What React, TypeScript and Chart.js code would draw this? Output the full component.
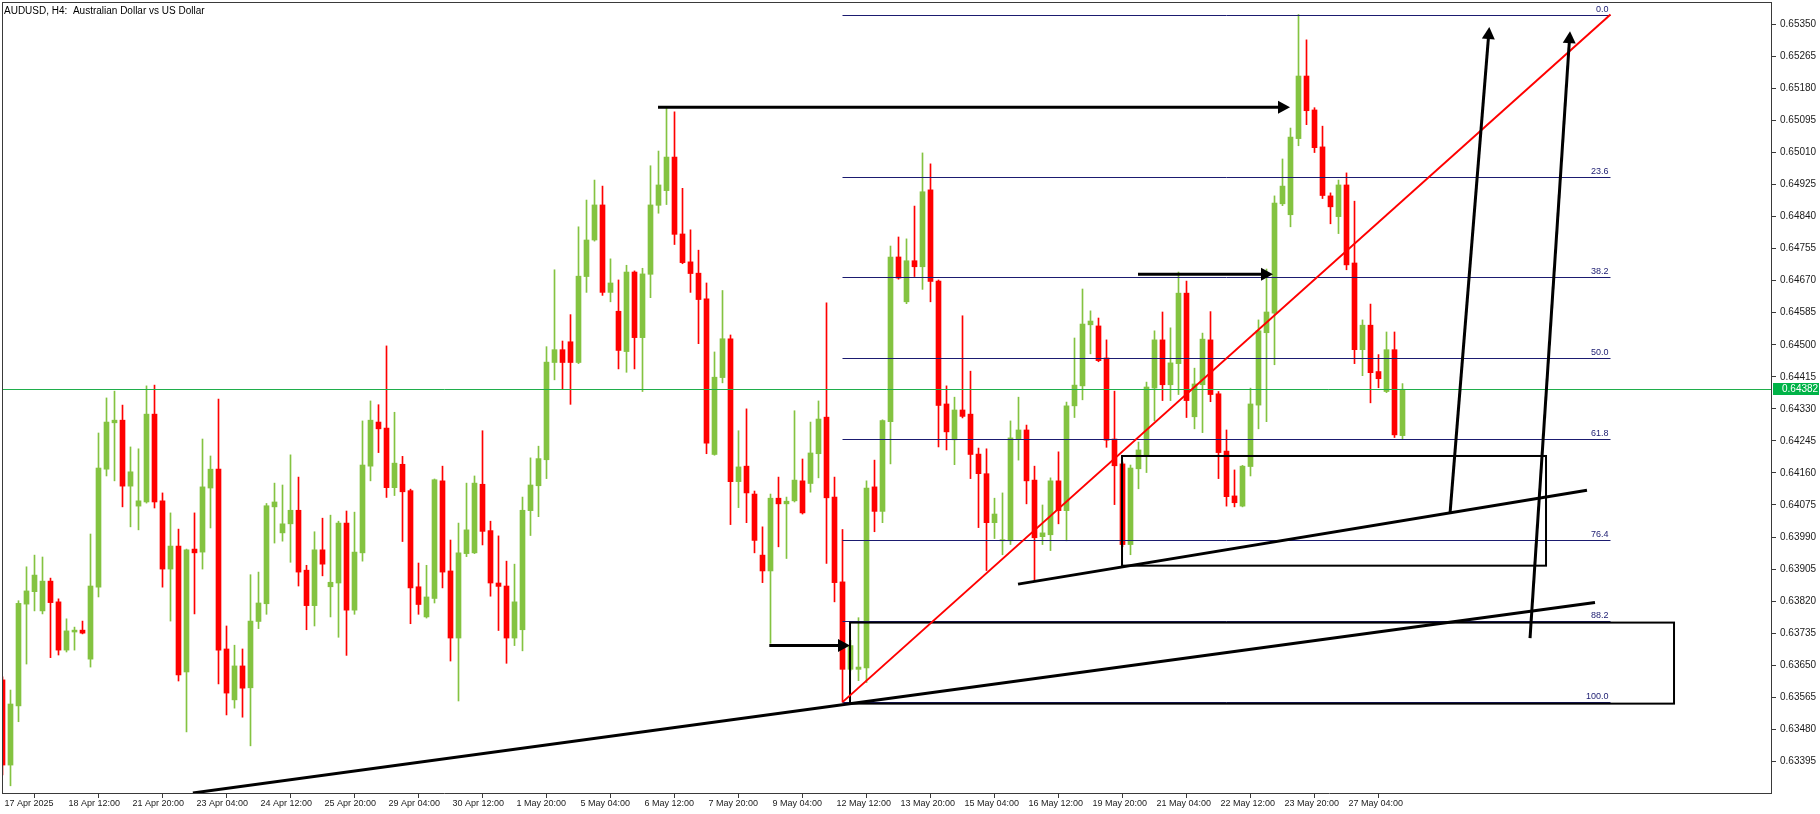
import React, { useEffect, useRef } from "react";
import { Chart, registerables } from "chart.js";

Chart.register(...registerables);

// ---- H4 candles (bar index 0 = 17 Apr 2025 04:00) ----
const barOpen = [
  0.63611, 0.63385, 0.63542, 0.63812, 0.63845, 0.63794, 0.63873, 0.63818, 0.63690, 0.63738,
  0.63743, 0.63666, 0.63857, 0.64170, 0.64293, 0.64300, 0.64125, 0.64072, 0.64083, 0.64316,
  0.64086, 0.63905, 0.63966, 0.63632, 0.63958, 0.63950, 0.64120, 0.64170, 0.63693, 0.63558,
  0.63648, 0.63590, 0.63766, 0.63813, 0.64070, 0.64001, 0.64025, 0.64061, 0.63902, 0.63808,
  0.63956, 0.63858, 0.63868, 0.64027, 0.63796, 0.63948, 0.64178, 0.64295, 0.64279, 0.64121,
  0.64183, 0.64113, 0.63858, 0.63778, 0.63827, 0.64139, 0.63900, 0.63722, 0.63946, 0.63948,
  0.64130, 0.64007, 0.63868, 0.63860, 0.63722, 0.63744, 0.64060, 0.64126, 0.64195, 0.64453,
  0.64487, 0.64508, 0.64453, 0.64681, 0.64778, 0.64871, 0.64639, 0.64589, 0.64482, 0.64693,
  0.64519, 0.64687, 0.64870, 0.64909, 0.64998, 0.64794, 0.64720, 0.64690, 0.64622, 0.64209,
  0.64413, 0.64516, 0.64137, 0.64178, 0.64104, 0.63942, 0.63900, 0.64093, 0.64078, 0.64086,
  0.64139, 0.64132, 0.64211, 0.64308, 0.64096, 0.63871, 0.63639, 0.63639, 0.63643, 0.64123,
  0.64058, 0.64296, 0.64733, 0.64614, 0.64723, 0.64707, 0.64911, 0.64669, 0.64343, 0.64248,
  0.64327, 0.64316, 0.64210, 0.64158, 0.64028, 0.63980, 0.63980, 0.64250, 0.64274, 0.64141,
  0.63991, 0.63996, 0.64139, 0.64060, 0.64338, 0.64391, 0.64553, 0.64550, 0.64465, 0.64250,
  0.64184, 0.63970, 0.64171, 0.64207, 0.64385, 0.64513, 0.64394, 0.64450, 0.64637, 0.64309,
  0.64394, 0.64513, 0.64370, 0.64218, 0.64099, 0.64072, 0.64177, 0.64340, 0.64532, 0.64584,
  0.64874, 0.64845, 0.65047, 0.65213, 0.65123, 0.65025, 0.64895, 0.64840, 0.64924, 0.64717,
  0.64487, 0.64552, 0.64429, 0.64376, 0.64487, 0.64259,
];
const barHigh = [
  0.63619, 0.63584, 0.63821, 0.63911, 0.63942, 0.63937, 0.63881, 0.63826, 0.63773, 0.63751,
  0.63767, 0.63998, 0.64266, 0.64359, 0.64377, 0.64340, 0.64229, 0.64224, 0.64391, 0.64393,
  0.64107, 0.64054, 0.64011, 0.63958, 0.64054, 0.64250, 0.64205, 0.64356, 0.63754, 0.63703,
  0.63693, 0.63890, 0.63897, 0.64079, 0.64133, 0.64128, 0.64208, 0.64149, 0.63915, 0.64004,
  0.64040, 0.64048, 0.64032, 0.64059, 0.64056, 0.64298, 0.64351, 0.64341, 0.64497, 0.64321,
  0.64204, 0.64117, 0.63921, 0.63915, 0.64144, 0.64178, 0.63982, 0.64027, 0.64133, 0.64152,
  0.64272, 0.64032, 0.63993, 0.63926, 0.63918, 0.64096, 0.64200, 0.64231, 0.64495, 0.64699,
  0.64510, 0.64580, 0.64813, 0.64884, 0.64937, 0.64921, 0.64728, 0.64672, 0.64711, 0.64696,
  0.64703, 0.64975, 0.65014, 0.65128, 0.65118, 0.64915, 0.64805, 0.64751, 0.64664, 0.64481,
  0.64644, 0.64526, 0.64272, 0.64330, 0.64112, 0.64017, 0.64104, 0.64149, 0.64096, 0.64325,
  0.64197, 0.64295, 0.64351, 0.64611, 0.64149, 0.64010, 0.63716, 0.63776, 0.64139, 0.64194,
  0.64301, 0.64762, 0.64786, 0.64781, 0.64868, 0.65009, 0.64980, 0.64672, 0.64391, 0.64361,
  0.64577, 0.64430, 0.64226, 0.64224, 0.64093, 0.64107, 0.64298, 0.64361, 0.64287, 0.64178,
  0.64075, 0.64147, 0.64216, 0.64348, 0.64518, 0.64648, 0.64590, 0.64571, 0.64513, 0.64377,
  0.64189, 0.64181, 0.64242, 0.64401, 0.64537, 0.64587, 0.64545, 0.64693, 0.64669, 0.64438,
  0.64531, 0.64588, 0.64376, 0.64274, 0.64168, 0.64180, 0.64385, 0.64566, 0.64701, 0.64895,
  0.64993, 0.65075, 0.65376, 0.65309, 0.65129, 0.65080, 0.64903, 0.64937, 0.64956, 0.64881,
  0.64566, 0.64608, 0.64474, 0.64534, 0.64534, 0.64397,
];
const barLow = [
  0.63359, 0.63330, 0.63500, 0.63653, 0.63794, 0.63786, 0.63670, 0.63677, 0.63685, 0.63690,
  0.63733, 0.63645, 0.63831, 0.64152, 0.64139, 0.64070, 0.64017, 0.64009, 0.64080, 0.64067,
  0.63857, 0.63767, 0.63608, 0.63473, 0.63786, 0.63905, 0.64014, 0.63600, 0.63518, 0.63536,
  0.63512, 0.63436, 0.63747, 0.63785, 0.63974, 0.63979, 0.63923, 0.63860, 0.63744, 0.63754,
  0.63887, 0.63778, 0.63724, 0.63676, 0.63785, 0.63926, 0.64139, 0.64214, 0.64095, 0.64100,
  0.63978, 0.63760, 0.63785, 0.63775, 0.63815, 0.63855, 0.63661, 0.63555, 0.63938, 0.63946,
  0.63969, 0.63833, 0.63742, 0.63655, 0.63702, 0.63688, 0.63994, 0.64044, 0.64145, 0.64407,
  0.64382, 0.64342, 0.64450, 0.64639, 0.64775, 0.64631, 0.64614, 0.64436, 0.64427, 0.64436,
  0.64376, 0.64625, 0.64849, 0.64872, 0.64766, 0.64715, 0.64639, 0.64503, 0.64211, 0.64207,
  0.64399, 0.64023, 0.64068, 0.64028, 0.63948, 0.63869, 0.63708, 0.63964, 0.63933, 0.64083,
  0.64051, 0.64109, 0.64147, 0.63920, 0.63818, 0.63552, 0.63635, 0.63609, 0.63604, 0.64004,
  0.64028, 0.64184, 0.64674, 0.64609, 0.64681, 0.64647, 0.64614, 0.64229, 0.64221, 0.64182,
  0.64306, 0.64145, 0.64015, 0.63901, 0.63986, 0.63943, 0.63970, 0.64194, 0.64078, 0.63874,
  0.63970, 0.63954, 0.64025, 0.63980, 0.64307, 0.64354, 0.64476, 0.64455, 0.64228, 0.64076,
  0.63964, 0.63943, 0.64118, 0.64161, 0.64298, 0.64352, 0.64352, 0.64368, 0.64307, 0.64277,
  0.64267, 0.64349, 0.64145, 0.64072, 0.64070, 0.64070, 0.64152, 0.64277, 0.64296, 0.64447,
  0.64869, 0.64813, 0.65028, 0.65084, 0.65010, 0.64888, 0.64821, 0.64795, 0.64699, 0.64450,
  0.64418, 0.64346, 0.64386, 0.64373, 0.64254, 0.64251,
];
const barClose = [
  0.63385, 0.63547, 0.63814, 0.63847, 0.63889, 0.63873, 0.63816, 0.63690, 0.63741, 0.63743,
  0.63735, 0.63860, 0.64173, 0.64295, 0.64300, 0.64125, 0.64163, 0.64086, 0.64316, 0.64083,
  0.63905, 0.63966, 0.63624, 0.63956, 0.63948, 0.64123, 0.64170, 0.63690, 0.63576, 0.63648,
  0.63589, 0.63767, 0.63815, 0.64073, 0.64083, 0.64025, 0.64061, 0.63897, 0.63808, 0.63956,
  0.63918, 0.63870, 0.64027, 0.63796, 0.63950, 0.64181, 0.64300, 0.64277, 0.64121, 0.64186,
  0.64110, 0.63855, 0.63811, 0.63831, 0.64142, 0.63897, 0.63722, 0.63948, 0.64009, 0.64133,
  0.64005, 0.63868, 0.63859, 0.63722, 0.63818, 0.64061, 0.64128, 0.64198, 0.64454, 0.64487,
  0.64453, 0.64453, 0.64682, 0.64778, 0.64871, 0.64639, 0.64664, 0.64485, 0.64693, 0.64519,
  0.64688, 0.64871, 0.64924, 0.64998, 0.64793, 0.64718, 0.64689, 0.64620, 0.64239, 0.64414,
  0.64516, 0.64137, 0.64176, 0.64107, 0.63981, 0.63900, 0.64093, 0.64078, 0.64085, 0.64141,
  0.64054, 0.64213, 0.64303, 0.64094, 0.63869, 0.63639, 0.63702, 0.63645, 0.64120, 0.64058,
  0.64299, 0.64733, 0.64677, 0.64723, 0.64707, 0.64906, 0.64668, 0.64339, 0.64269, 0.64327,
  0.64310, 0.64209, 0.64158, 0.64028, 0.64051, 0.63983, 0.64253, 0.64274, 0.64139, 0.63988,
  0.64001, 0.64139, 0.64060, 0.64338, 0.64393, 0.64555, 0.64563, 0.64458, 0.64247, 0.64179,
  0.63970, 0.64173, 0.64221, 0.64388, 0.64513, 0.64394, 0.64452, 0.64637, 0.64352, 0.64396,
  0.64515, 0.64368, 0.64214, 0.64097, 0.64081, 0.64178, 0.64343, 0.64537, 0.64587, 0.64876,
  0.64921, 0.65051, 0.65213, 0.65121, 0.65023, 0.64896, 0.64866, 0.64924, 0.64712, 0.64487,
  0.64552, 0.64426, 0.64410, 0.64487, 0.64261, 0.64382,
];

// ---- axis labels ----
const timeLabels = [
  "17 Apr 2025", "18 Apr 12:00", "21 Apr 20:00", "23 Apr 04:00", "24 Apr 12:00", "25 Apr 20:00",
  "29 Apr 04:00", "30 Apr 12:00", "1 May 20:00", "5 May 04:00", "6 May 12:00", "7 May 20:00",
  "9 May 04:00", "12 May 12:00", "13 May 20:00", "15 May 04:00", "16 May 12:00", "19 May 20:00",
  "21 May 04:00", "22 May 12:00", "23 May 20:00", "27 May 04:00",
];
const timeLabelBars = [0, 8, 16, 24, 32, 40, 48, 56, 64, 72, 80, 88, 96, 104, 112, 120, 128, 136, 144, 152, 160, 168];
const priceTicks = [
  0.65350, 0.65265, 0.65180, 0.65095, 0.65010, 0.64925, 0.64840, 0.64755, 0.64670, 0.64585,
  0.64500, 0.64415, 0.64330, 0.64245, 0.64160, 0.64075, 0.63990, 0.63905, 0.63820, 0.63735,
  0.63650, 0.63565, 0.63480, 0.63395,
];

const symbolTitle = "AUDUSD, H4:  Australian Dollar vs US Dollar";
const bidPrice = 0.64382;
const viewPrice = [0.633109, 0.654094];
const viewBars = [-0.0625, 221.0625];

// ---- drawn objects (bar index, price) ----
const fibLevels = [0, 23.6, 38.2, 50, 61.8, 76.4, 88.2, 100];
const fibHigh = 0.65376;
const fibLow = 0.63552;
const fibBars = [105, 201];
const redTrend = [[105, 0.63552], [201, 0.65376]];
const blackTrends = [
  [[23.8, 0.63311], [199.06, 0.63816]],
  [[126.94, 0.63865], [198.06, 0.64114]],
];
const arrows = [
  [[81.94, 0.6513], [160.94, 0.6513]],
  [[141.94, 0.64687], [158.81, 0.64687]],
  [[95.85, 0.63702], [105.94, 0.63702]],
  [[180.94, 0.64053], [185.85, 0.65343]],
  [[190.94, 0.63722], [195.94, 0.65332]],
];
const boxes = [
  [[139.94, 0.64205], [192.94, 0.63914]],
  [[105.94, 0.63763], [208.94, 0.63548]],
];

const BULL = "#84c341";
const BEAR = "#ff0000";
const AXIS = "#3a3a3a";
const FIB = "#1b1b70";
const FONT = "'Liberation Sans', Arial, sans-serif";

const overlayPlugin = {
  id: "overlay",
  afterDatasetsDraw(chart: any) {
    const { ctx, chartArea: a, scales } = chart;
    const xs = scales.x;
    const ys = scales.y;
    const px = (v: number) => xs.getPixelForValue(v);
    const py = (v: number) => ys.getPixelForValue(v);

    ctx.save();
    ctx.beginPath();
    ctx.rect(a.left, a.top, a.right - a.left, a.bottom - a.top);
    ctx.clip();

    // fibonacci levels
    const fx0 = px(fibBars[0]);
    const fx1 = px(fibBars[1]);
    ctx.font = `9px ${FONT}`;
    ctx.textAlign = "right";
    ctx.textBaseline = "alphabetic";
    fibLevels.forEach((lv) => {
      const price = fibHigh - (lv / 100) * (fibHigh - fibLow);
      const y = Math.round(py(price)) + 0.5;
      ctx.strokeStyle = FIB;
      ctx.lineWidth = 1;
      ctx.beginPath();
      ctx.moveTo(fx0, y);
      ctx.lineTo(fx1, y);
      ctx.stroke();
      ctx.fillStyle = FIB;
      ctx.fillText(lv.toFixed(1), fx1 - 2, y - 3.5);
    });

    // bid line
    const by = Math.round(py(bidPrice)) + 0.5;
    ctx.strokeStyle = "#1fae4b";
    ctx.lineWidth = 1;
    ctx.beginPath();
    ctx.moveTo(a.left, by);
    ctx.lineTo(a.right, by);
    ctx.stroke();

    // rectangles
    ctx.strokeStyle = "#000";
    ctx.lineWidth = 2;
    boxes.forEach(([p0, p1]) => {
      const x0 = px(p0[0]);
      const y0 = py(p0[1]);
      const x1 = px(p1[0]);
      const y1 = py(p1[1]);
      ctx.strokeRect(x0, y0, x1 - x0, y1 - y0);
    });

    // black trend lines
    ctx.lineWidth = 3;
    ctx.lineCap = "butt";
    blackTrends.forEach(([p0, p1]) => {
      ctx.beginPath();
      ctx.moveTo(px(p0[0]), py(p0[1]));
      ctx.lineTo(px(p1[0]), py(p1[1]));
      ctx.stroke();
    });

    // red trend line
    ctx.strokeStyle = BEAR;
    ctx.lineWidth = 2;
    ctx.beginPath();
    ctx.moveTo(px(redTrend[0][0]), py(redTrend[0][1]));
    ctx.lineTo(px(redTrend[1][0]), py(redTrend[1][1]));
    ctx.stroke();

    // arrows
    ctx.strokeStyle = "#000";
    ctx.fillStyle = "#000";
    arrows.forEach(([p0, p1]) => {
      const x0 = px(p0[0]);
      const y0 = py(p0[1]);
      const x1 = px(p1[0]);
      const y1 = py(p1[1]);
      const len = Math.hypot(x1 - x0, y1 - y0);
      const dx = (x1 - x0) / len;
      const dy = (y1 - y0) / len;
      const head = 12;
      const half = 6.5;
      ctx.lineWidth = 3;
      ctx.beginPath();
      ctx.moveTo(x0, y0);
      ctx.lineTo(x1 - dx * head * 0.6, y1 - dy * head * 0.6);
      ctx.stroke();
      const bx = x1 - dx * head;
      const by2 = y1 - dy * head;
      ctx.beginPath();
      ctx.moveTo(x1, y1);
      ctx.lineTo(bx - dy * half, by2 + dx * half);
      ctx.lineTo(bx + dy * half, by2 - dx * half);
      ctx.closePath();
      ctx.fill();
    });
    ctx.restore();

    // frame (left & top)
    ctx.save();
    ctx.fillStyle = AXIS;
    ctx.fillRect(Math.floor(a.left), Math.floor(a.top), 1, a.bottom - a.top);
    ctx.fillRect(Math.floor(a.left), Math.floor(a.top), a.right - a.left, 1);

    // bid price box on the axis
    const boxY = Math.round(py(bidPrice));
    ctx.fillStyle = "#00b347";
    ctx.fillRect(ys.left + 2, boxY - 6, 46, 12);
    ctx.fillStyle = "#ffffff";
    ctx.font = `10px ${FONT}`;
    ctx.textAlign = "left";
    ctx.textBaseline = "middle";
    ctx.fillText(bidPrice.toFixed(5), ys.left + 11, boxY + 0.5);

    // title
    ctx.fillStyle = "#000";
    ctx.font = `10px ${FONT}`;
    ctx.textBaseline = "alphabetic";
    ctx.fillText(symbolTitle, a.left + 2, 14);
    ctx.restore();
  },
};

export default function App() {
  const canvasRef = useRef<HTMLCanvasElement | null>(null);

  useEffect(() => {
    const canvas = canvasRef.current;
    if (!canvas) return;
    const idx = barOpen.map((_, i) => i);
    const colors = idx.map((i) => (barClose[i] >= barOpen[i] ? BULL : BEAR));

    const chart = new Chart(canvas, {
      type: "bar",
      data: {
        datasets: [
          {
            label: "wick",
            data: idx.map((i) => ({ x: i, y: [barLow[i], barHigh[i]] })) as any,
            backgroundColor: colors,
            borderWidth: 0,
            barThickness: 1,
            grouped: false,
            minBarLength: 1,
          } as any,
          {
            label: "body",
            data: idx.map((i) => ({ x: i, y: [barOpen[i], barClose[i]] })) as any,
            backgroundColor: colors,
            borderWidth: 0,
            barThickness: 5,
            grouped: false,
            minBarLength: 1,
          } as any,
        ],
      },
      options: {
        animation: false,
        responsive: false,
        devicePixelRatio: 1,
        layout: { padding: { left: 2, top: 2, right: 0, bottom: 0 } },
        plugins: {
          legend: { display: false },
          tooltip: { enabled: false },
          title: { display: false },
        },
        scales: {
          x: {
            type: "linear",
            min: viewBars[0],
            max: viewBars[1],
            offset: false,
            grid: {
              drawOnChartArea: false,
              drawTicks: true,
              tickLength: 5,
              color: AXIS,
            },
            border: { display: true, color: AXIS },
            ticks: {
              autoSkip: false,
              maxRotation: 0,
              minRotation: 0,
              align: "start",
              padding: 0,
              labelOffset: 2,
              color: "#1a1a1a",
              font: { family: FONT, size: 9 },
              callback: (v: any) => {
                const k = timeLabelBars.indexOf(Number(v));
                return k >= 0 ? timeLabels[k] : "";
              },
            },
            afterBuildTicks: (s: any) => {
              s.ticks = timeLabelBars.map((v) => ({ value: v }));
            },
            afterFit: (s: any) => {
              s.height = 21;
              s.paddingLeft = 0;
              s.paddingRight = 0;
            },
          },
          y: {
            type: "linear",
            position: "right",
            min: viewPrice[0],
            max: viewPrice[1],
            grid: {
              drawOnChartArea: false,
              drawTicks: true,
              tickLength: 5,
              color: AXIS,
            },
            border: { display: true, color: AXIS },
            ticks: {
              padding: 4,
              color: "#1a1a1a",
              font: { family: FONT, size: 10 },
              callback: (v: any) => Number(v).toFixed(5),
            },
            afterBuildTicks: (s: any) => {
              s.ticks = priceTicks.map((v) => ({ value: v }));
            },
            afterFit: (s: any) => {
              s.width = 49;
              s.paddingTop = 0;
              s.paddingBottom = 0;
            },
          },
        },
      } as any,
      plugins: [overlayPlugin],
    });
    return () => chart.destroy();
  }, []);

  return (
    <div style={{ position: "fixed", left: 0, top: 0, width: 1820, height: 814, background: "#ffffff" }}>
      <canvas ref={canvasRef} width={1820} height={814} style={{ display: "block" }} />
    </div>
  );
}
